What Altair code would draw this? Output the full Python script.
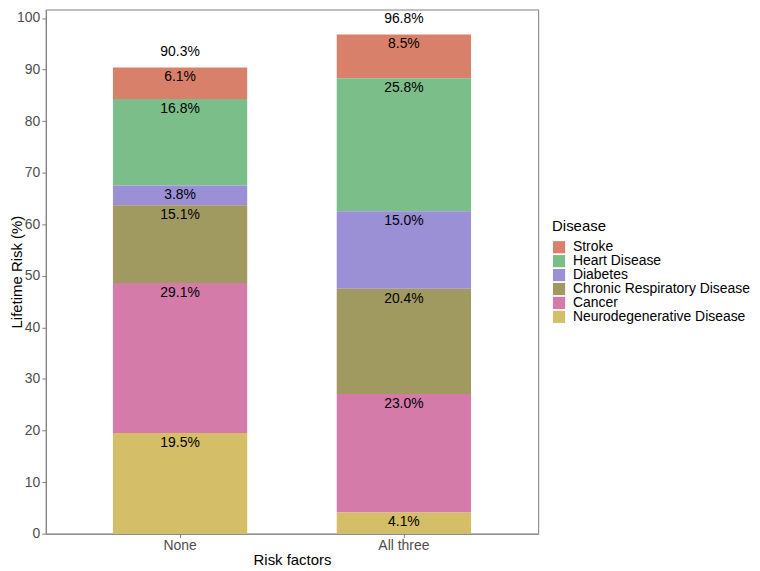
import altair as alt
import pandas as pd

groups = ["None", "All three"]
diseases = ["Stroke", "Heart Disease", "Diabetes", "Chronic Respiratory Disease",
            "Cancer", "Neurodegenerative Disease"]
colors = ["#D9806A", "#7CBE89", "#9B8FD6", "#A09A60", "#D47BAA", "#D4BE67"]
none_vals = [6.1, 16.8, 3.8, 15.1, 29.1, 19.5]
all_vals = [8.5, 25.8, 15.0, 20.4, 23.0, 4.1]
totals = [90.3, 96.8]

rows = []
for g, vals in zip(groups, [none_vals, all_vals]):
    for i, (d, v) in enumerate(zip(diseases, vals)):
        rows.append({"group": g, "disease": d, "value": v,
                     "order": len(diseases) - 1 - i, "label": f"{v:.1f}%"})
df = pd.DataFrame(rows)
tot = pd.DataFrame({"group": groups, "total": totals,
                    "label": [f"{t:.1f}%" for t in totals]})

FONT = "Liberation Sans"
xscale = alt.Scale(domain=groups, paddingInner=0.4, paddingOuter=0.3)
yscale = alt.Scale(domain=[0, 101.64], nice=False, zero=True)

base = alt.Chart(df).transform_stack(
    stack="value", groupby=["group"], as_=["y0", "y1"],
    sort=[alt.SortField("order", order="ascending")]
)

bars = base.mark_bar().encode(
    x=alt.X("group:N", scale=xscale, sort=groups,
            axis=alt.Axis(title="Risk factors", labelAngle=0, labelPadding=1,
                          titlePadding=0)),
    y=alt.Y("y0:Q", scale=yscale,
            axis=alt.Axis(title="Lifetime Risk (%)", values=list(range(0, 101, 10)),
                          titleX=-29, titleBaseline="middle")),
    y2="y1:Q",
    color=alt.Color("disease:N", scale=alt.Scale(domain=diseases, range=colors),
                    legend=alt.Legend(title="Disease", orient="none",
                                      legendX=509, legendY=211)),
)

seg_text = base.mark_text(font=FONT, fontSize=14, color="black",
                          baseline="middle", dy=10).encode(
    x=alt.X("group:N", scale=xscale, sort=groups),
    y=alt.Y("y1:Q", scale=yscale),
    text="label:N",
)

tot_text = alt.Chart(tot).mark_text(font=FONT, fontSize=14, color="black",
                                    baseline="middle", dy=-16).encode(
    x=alt.X("group:N", scale=xscale, sort=groups),
    y=alt.Y("total:Q", scale=yscale),
    text="label:N",
)

chart = alt.layer(bars, seg_text, tot_text).properties(
    width=495, height=527,
    autosize=alt.AutoSizeParams(type="none"),
    padding={"left": 38, "top": 0, "right": 215, "bottom": 36},
).configure_view(
    stroke="#7F7F7F", strokeWidth=1
).configure_axis(
    grid=False, domainColor="#7F7F7F", tickColor="#7F7F7F", tickSize=4,
    labelFont=FONT, labelFontSize=14, labelColor="#4D4D4D", labelPadding=2,
    titleFont=FONT, titleFontSize=15, titleFontWeight="normal", titleColor="black",
    titlePadding=2,
).configure_legend(
    titleFont=FONT, titleFontSize=15, titleFontWeight="normal", titleColor="black",
    labelFont=FONT, labelFontSize=14, labelColor="black", labelLimit=0,
    symbolType="square", symbolSize=150, symbolStrokeWidth=0, symbolOpacity=1,
    rowPadding=0, labelOffset=7, titlePadding=6,
)

chart.save("out.html", embed_options={"renderer": "svg", "actions": False})
